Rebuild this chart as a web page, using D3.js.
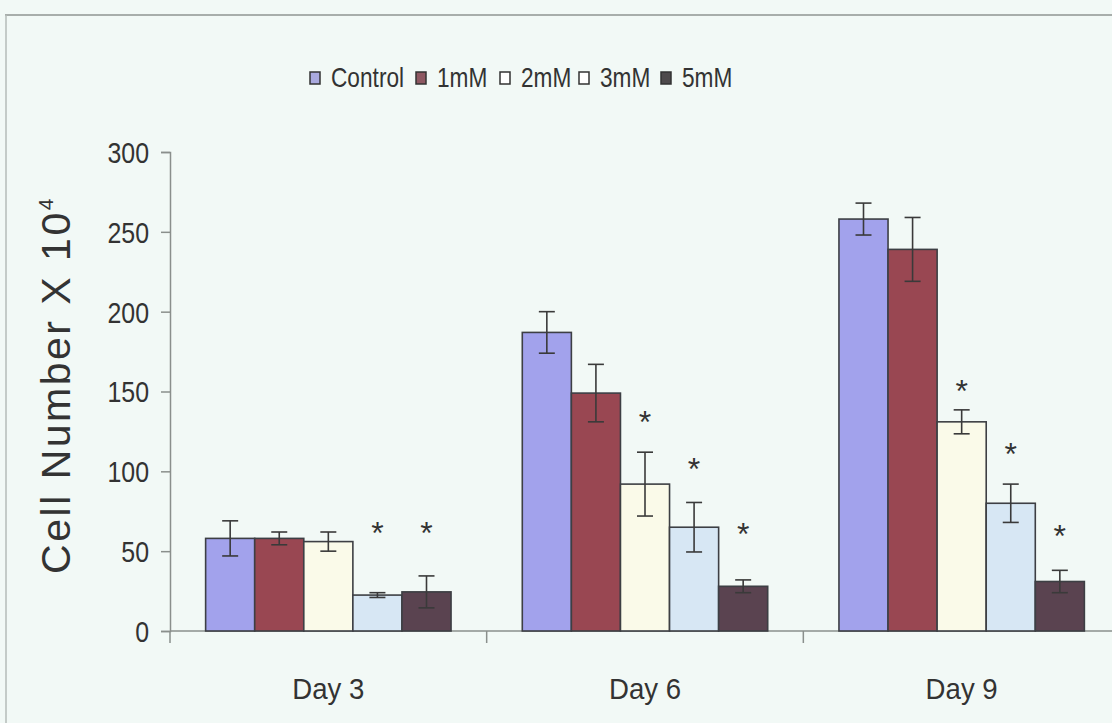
<!DOCTYPE html>
<html>
<head>
<meta charset="utf-8">
<script src="https://cdn.jsdelivr.net/npm/d3@7/dist/d3.min.js"></script>
<style>
  html, body { margin: 0; padding: 0; background: #f2f9f6; }
  svg { display: block; }
  text { font-family: "Liberation Sans", Arial, sans-serif; fill: #333; }
</style>
</head>
<body>
<svg id="chart" width="1112" height="723"></svg>
<script>
// Cell counts (x 10^4) per day for each treatment, with error bars
const days = ["Day 3", "Day 6", "Day 9"];
const seriesNames = ["Control", "1mM", "2mM", "3mM", "5mM"];

const controlVals = [58, 187, 258];
const mM1Vals = [58, 149, 239];
const mM2Vals = [56, 92, 131];
const mM3Vals = [22.5, 65, 80];
const mM5Vals = [24.5, 28, 31];

const controlErr = [11, 13, 10];
const mM1Err = [4, 18, 20];
const mM2Err = [6, 20, 7.5];
const mM3Err = [1.5, 15.5, 12];
const mM5Err = [10, 4, 7];

// Height (in axis units) of the significance asterisk above each bar; null = none
const controlStar = [null, null, null];
const mM1Star = [null, null, null];
const mM2Star = [null, 135, 155];
const mM3Star = [66, 106, 115];
const mM5Star = [66, 65, 64];

const yTicks = [0, 50, 100, 150, 200, 250, 300];

const fills = ["#a2a2ec", "#994752", "#fafae9", "#d7e7f4", "#5a4350"];
const legendFills = ["#a9a9de", "#8e5862", "#ffffff", "#ffffff", "#4e4a4c"];

const values = [controlVals, mM1Vals, mM2Vals, mM3Vals, mM5Vals];
const errs = [controlErr, mM1Err, mM2Err, mM3Err, mM5Err];
const stars = [controlStar, mM1Star, mM2Star, mM3Star, mM5Star];

const rows = [];
seriesNames.forEach((s, si) => {
  days.forEach((d, di) => {
    rows.push({ series: s, si, day: d, value: values[si][di], err: errs[si][di], star: stars[si][di] });
  });
});

const svg = d3.select("#chart");
const W = 1112, H = 723;

// Outer frame lines of the figure
svg.append("line").attr("x1", 5).attr("x2", W).attr("y1", 15).attr("y2", 15)
  .attr("stroke", "#a8aeab").attr("stroke-width", 2);
svg.append("line").attr("x1", 6).attr("x2", 6).attr("y1", 15).attr("y2", H)
  .attr("stroke", "#b5bbb8").attr("stroke-width", 1.5);

const x0 = 170, yBase = 631, yTop = 152;

const x = d3.scaleBand().domain(days).range([x0, 1120])
  .paddingInner(0.225).paddingOuter(0.1125);
const xs = d3.scaleBand().domain(seriesNames).range([0, x.bandwidth()]).padding(0);
const y = d3.scaleLinear().domain([0, 300]).range([yBase, yTop]);

// Y axis
const yAxis = svg.append("g").attr("transform", `translate(${x0},0)`)
  .call(d3.axisLeft(y).tickValues(yTicks).tickSize(9).tickPadding(12));
yAxis.select(".domain").attr("stroke", "#8a8f8c").attr("stroke-width", 1.5);
yAxis.selectAll(".tick line").attr("stroke", "#8a8f8c").attr("stroke-width", 1.5);
yAxis.selectAll(".tick text")
  .style("font-size", "29px")
  .attr("fill", "#333")
  .attr("dy", "0.36em")
  .attr("transform", function () {
    const t = d3.select(this);
    const tx = +t.attr("x");
    return `translate(${tx},0) scale(0.86,1) translate(${-tx},0)`;
  });

// X axis line and category separators
svg.append("line").attr("x1", x0).attr("x2", W).attr("y1", yBase).attr("y2", yBase)
  .attr("stroke", "#8a8f8c").attr("stroke-width", 1.5);
const step = x.step();
const seps = d3.range(days.length).map(i => x0 + i * step);
svg.selectAll(".sep").data(seps).join("line")
  .attr("x1", d => d).attr("x2", d => d)
  .attr("y1", yBase).attr("y2", yBase + 12)
  .attr("stroke", "#8a8f8c").attr("stroke-width", 1.5);

svg.selectAll(".daylabel").data(days).join("text")
  .attr("x", d => x(d) + x.bandwidth() / 2)
  .attr("y", 699)
  .attr("text-anchor", "middle")
  .style("font-size", "30px")
  .attr("transform", d => {
    const cx = x(d) + x.bandwidth() / 2;
    return `translate(${cx},0) scale(0.92,1) translate(${-cx},0)`;
  })
  .text(d => d);

// Bars
svg.selectAll(".bar").data(rows).join("rect")
  .attr("x", d => x(d.day) + xs(d.series))
  .attr("y", d => y(d.value))
  .attr("width", xs.bandwidth())
  .attr("height", d => y(0) - y(d.value))
  .attr("fill", d => fills[d.si])
  .attr("stroke", "#3d3f44")
  .attr("stroke-width", 1.6);

// Error bars
const cap = 8;
const eb = svg.selectAll(".eb").data(rows).join("g")
  .attr("stroke", "#3a3a3a").attr("stroke-width", 1.6);
eb.append("line")
  .attr("x1", d => x(d.day) + xs(d.series) + xs.bandwidth() / 2)
  .attr("x2", d => x(d.day) + xs(d.series) + xs.bandwidth() / 2)
  .attr("y1", d => y(d.value - d.err)).attr("y2", d => y(d.value + d.err));
eb.append("line")
  .attr("x1", d => x(d.day) + xs(d.series) + xs.bandwidth() / 2 - cap)
  .attr("x2", d => x(d.day) + xs(d.series) + xs.bandwidth() / 2 + cap)
  .attr("y1", d => y(d.value + d.err)).attr("y2", d => y(d.value + d.err));
eb.append("line")
  .attr("x1", d => x(d.day) + xs(d.series) + xs.bandwidth() / 2 - cap)
  .attr("x2", d => x(d.day) + xs(d.series) + xs.bandwidth() / 2 + cap)
  .attr("y1", d => y(d.value - d.err)).attr("y2", d => y(d.value - d.err));

// Significance asterisks
svg.selectAll(".star").data(rows.filter(d => d.star != null)).join("text")
  .attr("x", d => x(d.day) + xs(d.series) + xs.bandwidth() / 2)
  .attr("y", d => y(d.star) + 18)
  .attr("text-anchor", "middle")
  .style("font-size", "32px")
  .attr("fill", "#444")
  .text("*");

// Y axis title
svg.append("text")
  .attr("transform", "translate(70,385) rotate(-90)")
  .attr("text-anchor", "middle")
  .style("font-size", "41px")
  .style("letter-spacing", "2.5px")
  .html('Cell Number X 10<tspan dy="-17" style="font-size:21px">4</tspan>');

// Legend
const legendX = [310, 416, 500, 579, 661];
const legend = svg.append("g");
seriesNames.forEach((s, i) => {
  const g = legend.append("g").attr("transform", `translate(${legendX[i]},72)`);
  g.append("rect").attr("width", 10).attr("height", 12)
    .attr("fill", legendFills[i]).attr("stroke", "#333").attr("stroke-width", 1.5);
  g.append("text").attr("x", 21).attr("y", 15)
    .style("font-size", "27px")
    .attr("transform", "translate(21,0) scale(0.84,1) translate(-21,0)")
    .text(s);
});
</script>
</body>
</html>
